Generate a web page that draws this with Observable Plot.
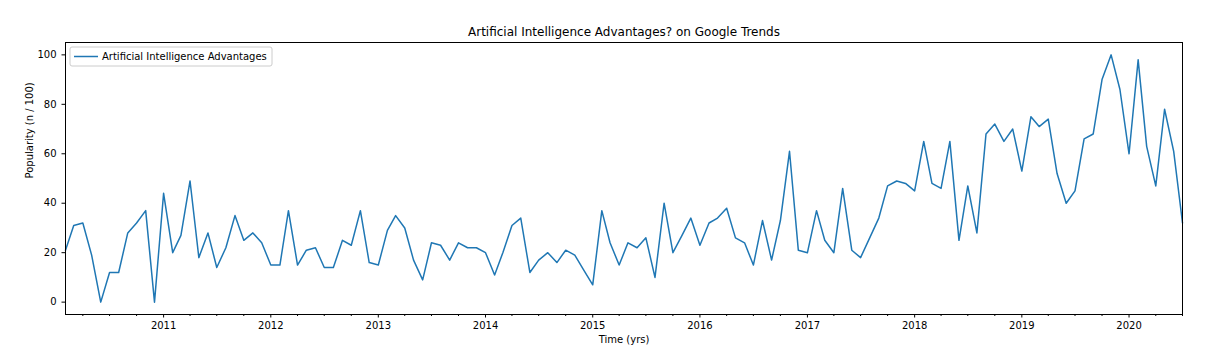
<!DOCTYPE html>
<html>
<head>
<meta charset="utf-8">
<script src="https://cdn.jsdelivr.net/npm/d3@7"></script>
<script src="https://cdn.jsdelivr.net/npm/@observablehq/plot@0.6"></script>
<style>
  html, body { margin: 0; padding: 0; background: #fff; }
  svg { display: block; }
</style>
</head>
<body>
<div id="chart"></div>
<script>
const titleText = "Artificial Intelligence Advantages? on Google Trends";
const seriesName = "Artificial Intelligence Advantages";
const xLabel = "Time (yrs)";
const yLabel = "Popularity (n / 100)";
const startMonth = "2010-02";
const endMonth = "2020-07";
const yTicks = [0, 20, 40, 60, 80, 100];
const yearTicks = [2011, 2012, 2013, 2014, 2015, 2016, 2017, 2018, 2019, 2020];
const values = [
  21, 31, 32, 19, 0, 12, 12, 28, 32, 37, 0,
  44, 20, 27, 49, 18, 28, 14, 22, 35, 25, 28, 24,
  15, 15, 37, 15, 21, 22, 14, 14, 25, 23, 37, 16,
  15, 29, 35, 30, 17, 9, 24, 23, 17, 24, 22, 22,
  20, 11, 20, 31, 34, 12, 17, 20, 16, 21, 19, 13,
  7, 37, 24, 15, 24, 22, 26, 10, 40, 20, 27, 34,
  23, 32, 34, 38, 26, 24, 15, 33, 17, 33, 61, 21,
  20, 37, 25, 20, 46, 21, 18, 26, 34, 47, 49, 48,
  45, 65, 48, 46, 65, 25, 47, 28, 68, 72, 65, 70,
  53, 75, 71, 74, 52, 40, 45, 66, 68, 90, 100, 86,
  60, 98, 63, 47, 78, 61, 32
];

const parseM = d3.utcParse("%Y-%m");
const t0 = parseM(startMonth), t1 = parseM(endMonth);
const months = d3.utcMonth.range(t0, d3.utcMonth.offset(t1, 1));
const data = months.map((d, i) => ({date: d, value: values[i]}));
const majorDates = yearTicks.map(y => new Date(Date.UTC(y, 0, 1)));
const minorDates = d3.utcMonth.every(3).range(t0, d3.utcMonth.offset(t1, 1)).filter(d => d.getUTCMonth() !== 0);

const W = 1209, H = 359;
const mL = 65, mR = 27, mT = 42, mB = 45;

const chart = Plot.plot({
  width: W,
  height: H,
  marginLeft: mL,
  marginRight: mR,
  marginTop: mT,
  marginBottom: mB,
  style: {fontFamily: "DejaVu Sans", fontSize: "10px", background: "#fff", color: "#000"},
  x: {type: "utc", domain: [t0, t1]},
  y: {domain: [-5, 105]},
  marks: [
    Plot.line(data, {x: "date", y: "value", stroke: "#1f77b4", strokeWidth: 1.5}),
    Plot.axisY(yTicks, {tickSize: 3.5, tickPadding: 5.5, label: null, fontSize: 10, stroke: "#000", fill: "#000"}),
    Plot.axisX(majorDates, {tickSize: 3.5, tickPadding: 3.5, tickFormat: d3.utcFormat("%Y"), label: null, fontSize: 10, stroke: "#000", fill: "#000"}),
    Plot.axisX(minorDates, {tickSize: 2, tickFormat: () => "", label: null, stroke: "#000"}),
    Plot.frame({stroke: "#000", strokeWidth: 1}),
    Plot.text([titleText], {frameAnchor: "top", lineAnchor: "middle", dy: -10, fontSize: 12, fill: "#000"}),
    Plot.text([xLabel], {frameAnchor: "bottom", lineAnchor: "middle", dy: 25, fontSize: 10, fill: "#000"}),
    Plot.text([yLabel], {frameAnchor: "left", lineAnchor: "middle", dx: -36, rotate: -90, fontSize: 10, fill: "#000"})
  ]
});

// Legend (decoration)
const svg = d3.select(chart);
const lg = svg.append("g").attr("transform", `translate(${mL + 5},${mT + 5})`);
lg.append("rect").attr("x", 0).attr("y", 0).attr("width", 202).attr("height", 19)
  .attr("rx", 2).attr("fill", "#fff").attr("fill-opacity", 0.8).attr("stroke", "#cccccc");
lg.append("line").attr("x1", 4).attr("x2", 28).attr("y1", 9.5).attr("y2", 9.5)
  .attr("stroke", "#1f77b4").attr("stroke-width", 1.5);
lg.append("text").attr("x", 32).attr("y", 9.5).attr("dy", "0.35em").attr("text-anchor", "start")
  .attr("font-family", "DejaVu Sans").attr("font-size", 10).attr("fill", "#000").text(seriesName);

document.getElementById("chart").appendChild(chart);
</script>
</body>
</html>
